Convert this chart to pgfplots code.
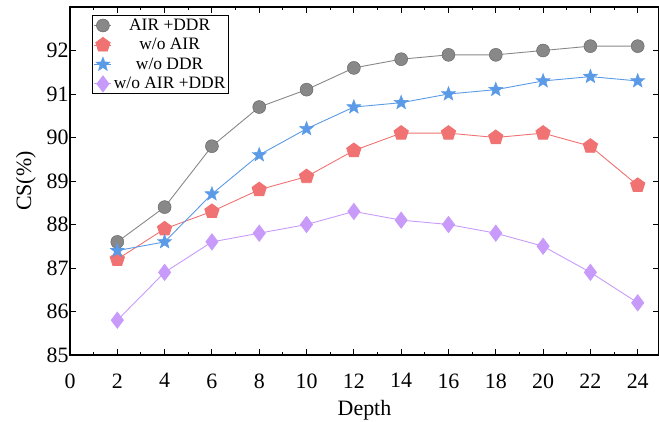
\documentclass[border=0pt]{standalone}
\usepackage{fontspec}
\setmainfont{Liberation Serif}
\usepackage{pgfplots}
\pgfplotsset{compat=1.18}
\usetikzlibrary{plotmarks}
\definecolor{cgray}{HTML}{888888}
\definecolor{cred}{HTML}{F07272}
\definecolor{cblue}{HTML}{5A9AE6}
\definecolor{cpurp}{HTML}{C89BFA}
% filled five-pointed star
\pgfdeclareplotmark{fstar}{%
  \pgfpathmoveto{\pgfpointpolar{90}{\pgfplotmarksize}}%
  \pgfpathlineto{\pgfpointpolar{126}{0.42\pgfplotmarksize}}%
  \pgfpathlineto{\pgfpointpolar{162}{\pgfplotmarksize}}%
  \pgfpathlineto{\pgfpointpolar{198}{0.42\pgfplotmarksize}}%
  \pgfpathlineto{\pgfpointpolar{234}{\pgfplotmarksize}}%
  \pgfpathlineto{\pgfpointpolar{270}{0.42\pgfplotmarksize}}%
  \pgfpathlineto{\pgfpointpolar{306}{\pgfplotmarksize}}%
  \pgfpathlineto{\pgfpointpolar{342}{0.42\pgfplotmarksize}}%
  \pgfpathlineto{\pgfpointpolar{18}{\pgfplotmarksize}}%
  \pgfpathlineto{\pgfpointpolar{54}{0.42\pgfplotmarksize}}%
  \pgfpathclose
  \pgfusepathqfillstroke}
\begin{document}
\begin{tikzpicture}
\begin{axis}[
  at={(0,0)}, anchor=south west,
  scale only axis,
  width=589bp, height=348bp,
  xmin=0, xmax=24.9, ymin=85, ymax=93,
  xtick={0,2,...,24}, minor xtick={1,3,...,23},
  ytick={85,86,...,92},
  tick align=inside,
  major tick length=6bp, minor tick length=3bp,
  tick style={black, line width=1pt},
  axis line style={line width=1.6pt},
  /pgf/number format/assume math mode=true,
  tick label style={font=\fontsize{22}{22}\selectfont},
  xticklabel style={yshift=-15bp},
  yticklabel style={xshift=2bp},
  xlabel={Depth}, ylabel={CS(\%)},
  label style={font=\fontsize{22}{22}\selectfont},
  xlabel style={yshift=-5bp},
  ylabel style={yshift=4bp},
  legend style={at={(22bp,340bp)}, anchor=north west, draw=black, line width=1pt,
    font=\fontsize{17.5}{17.5}\selectfont, row sep=2.5pt, inner sep=1.5pt},
  legend cell align=center,
  legend image post style={line width=0.9pt},
]
\addplot[cgray, line width=0.9pt, mark=*, mark size=6.5bp, mark options={fill=cgray, draw=cgray!70!black, line width=0.4pt}] coordinates {
(2,87.6) (4,88.4) (6,89.8) (8,90.7) (10,91.1) (12,91.6) (14,91.8) (16,91.9) (18,91.9) (20,92.0) (22,92.1) (24,92.1)
};
\addlegendentry{AIR +DDR}
\addplot[cred, line width=0.9pt, mark=pentagon*, mark size=7.5bp, mark options={fill=cred, draw=cred}] coordinates {
(2,87.2) (4,87.9) (6,88.3) (8,88.8) (10,89.1) (12,89.7) (14,90.1) (16,90.1) (18,90.0) (20,90.1) (22,89.8) (24,88.9)
};
\addlegendentry{w/o AIR}
\addplot[cblue, line width=0.9pt, mark=fstar, mark size=7.5bp, mark options={fill=cblue, draw=cblue, line width=0.4pt}] coordinates {
(2,87.4) (4,87.6) (6,88.7) (8,89.6) (10,90.2) (12,90.7) (14,90.8) (16,91.0) (18,91.1) (20,91.3) (22,91.4) (24,91.3)
};
\addlegendentry{w/o DDR}
\addplot[cpurp, line width=0.9pt, mark=diamond*, mark size=8bp, mark options={fill=cpurp, draw=cpurp}] coordinates {
(2,85.8) (4,86.9) (6,87.6) (8,87.8) (10,88.0) (12,88.3) (14,88.1) (16,88.0) (18,87.8) (20,87.5) (22,86.9) (24,86.2)
};
\addlegendentry{w/o AIR +DDR}
\end{axis}
\pgfresetboundingbox
\path (-70bp,-67bp) rectangle (589bp,355bp);
\end{tikzpicture}
\end{document}
